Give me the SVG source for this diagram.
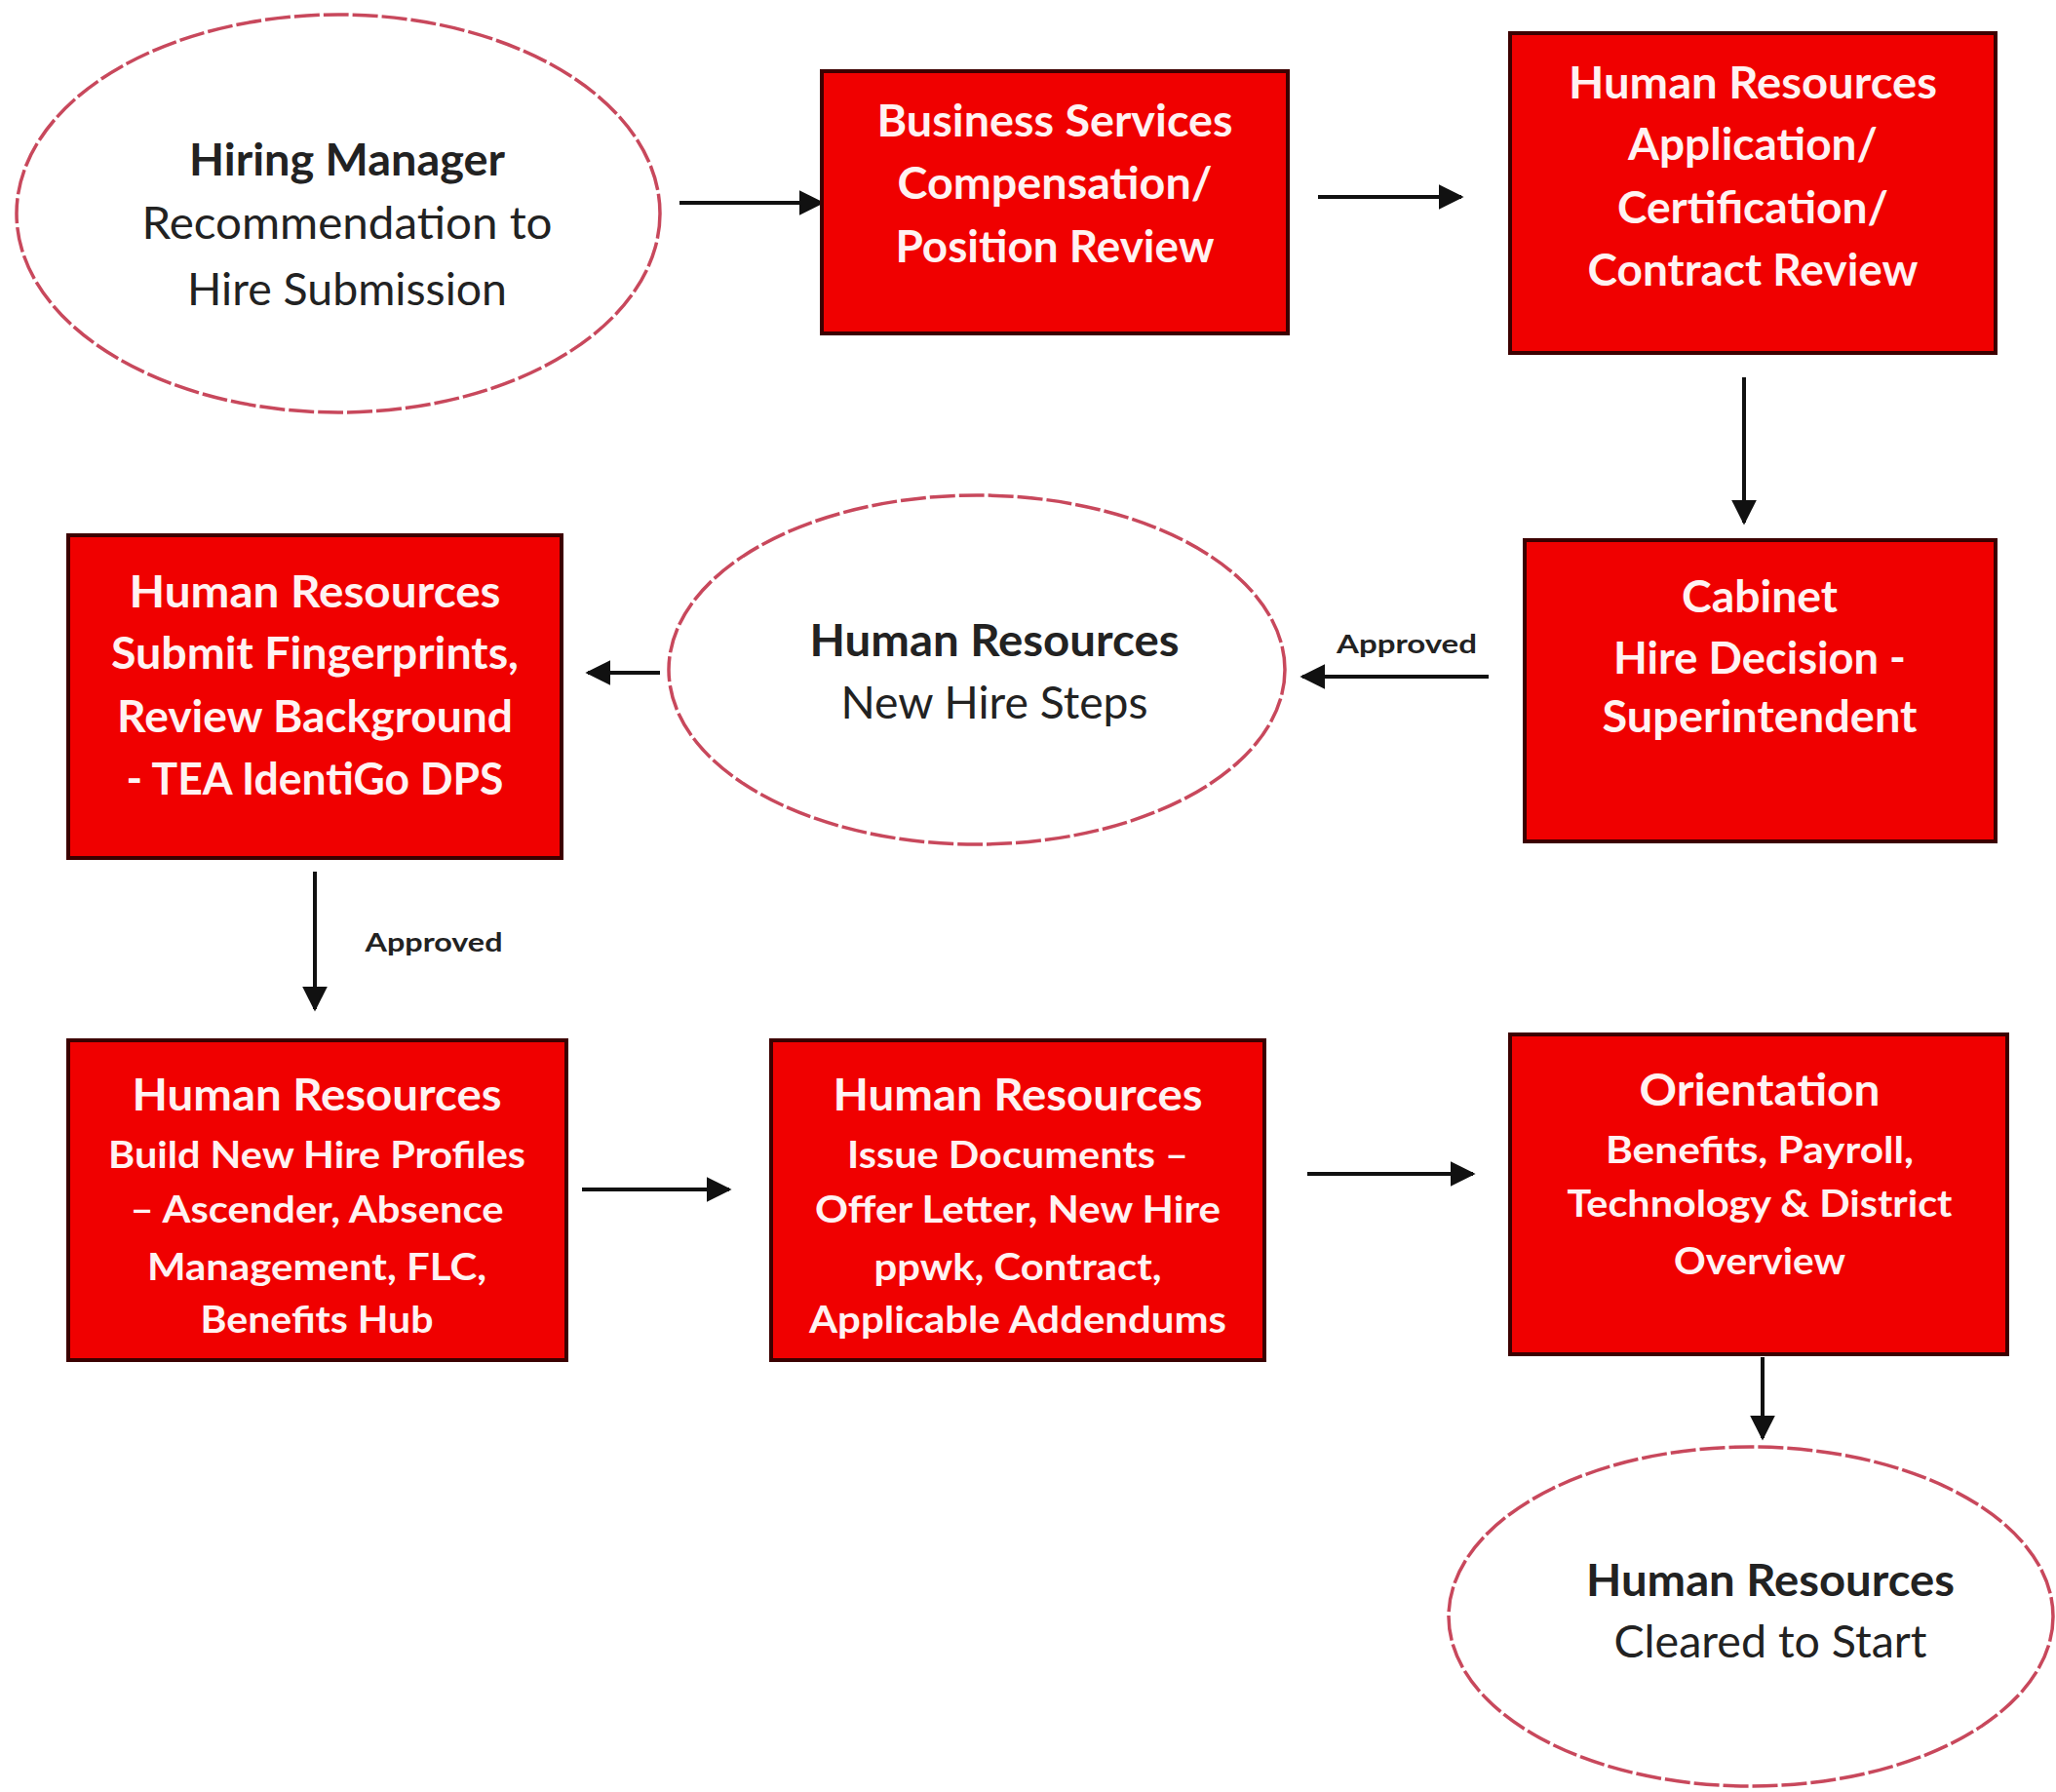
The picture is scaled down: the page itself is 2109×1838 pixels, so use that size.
<svg xmlns="http://www.w3.org/2000/svg" width="2109" height="1838" viewBox="0 0 2109 1838">
<style>
.box{fill:#f00000;stroke:#3c0000;stroke-width:4}
.oval{fill:#ffffff;stroke:#c8485c;stroke-width:3.5;stroke-dasharray:26 4}
.wt{fill:#fff2f2;font-family:Lato,"Liberation Sans",sans-serif;font-weight:bold;text-anchor:middle}
.bt{fill:#222222;font-family:Lato,"Liberation Sans",sans-serif;text-anchor:middle}
.t1{font-size:46px}
.t2{font-size:38px}
.lbl{fill:#222222;font-family:Lato,"Liberation Sans",sans-serif;font-weight:bold;font-size:27px;text-anchor:middle}
.con{stroke:#111111;stroke-width:4;fill:none;marker-end:url(#ah)}
</style>
<defs>
<marker id="ah" viewBox="0 0 10 10" refX="9" refY="5" markerWidth="6.5" markerHeight="6.5" orient="auto" markerUnits="strokeWidth">
<path d="M0,0 L10,5 L0,10 Z" fill="#111111"/>
</marker>
</defs>
<rect width="2109" height="1838" fill="#ffffff"/>
<g id="connectors">
<line class="con" x1="697" y1="208" x2="843" y2="208"/>
<line class="con" x1="1352" y1="202" x2="1499" y2="202"/>
<line class="con" x1="1789" y1="387" x2="1789" y2="536"/>
<line class="con" x1="1527" y1="694" x2="1336" y2="694"/>
<line class="con" x1="677" y1="690" x2="603" y2="690"/>
<line class="con" x1="323" y1="894" x2="323" y2="1035"/>
<line class="con" x1="597" y1="1220" x2="748" y2="1220"/>
<line class="con" x1="1341" y1="1204" x2="1511" y2="1204"/>
<line class="con" x1="1808" y1="1392" x2="1808" y2="1475"/>
<text class="lbl" x="1443" y="670" textLength="144" lengthAdjust="spacingAndGlyphs">Approved</text>
<text class="lbl" x="445" y="976" textLength="141" lengthAdjust="spacingAndGlyphs">Approved</text>
</g>
<g id="n1">
<ellipse class="oval" cx="347" cy="219" rx="330" ry="204"/>
<text class="bt t1" x="356" y="180" font-weight="bold" textLength="324" lengthAdjust="spacingAndGlyphs">Hiring Manager</text>
<text class="bt t1" x="356" y="245" textLength="421" lengthAdjust="spacingAndGlyphs">Recommendation to</text>
<text class="bt t1" x="356" y="313" textLength="328" lengthAdjust="spacingAndGlyphs">Hire Submission</text>
</g>
<g id="n2">
<rect class="box" x="843" y="73" width="478" height="269"/>
<text class="wt t1" x="1082" y="140" textLength="365" lengthAdjust="spacingAndGlyphs">Business Services</text>
<text class="wt t1" x="1082" y="204" textLength="323" lengthAdjust="spacingAndGlyphs">Compensation/</text>
<text class="wt t1" x="1082" y="269" textLength="327" lengthAdjust="spacingAndGlyphs">Position Review</text>
</g>
<g id="n3">
<rect class="box" x="1549" y="34" width="498" height="328"/>
<text class="wt t1" x="1798" y="101" textLength="378" lengthAdjust="spacingAndGlyphs">Human Resources</text>
<text class="wt t1" x="1798" y="164" textLength="256" lengthAdjust="spacingAndGlyphs">Application/</text>
<text class="wt t1" x="1798" y="229" textLength="278" lengthAdjust="spacingAndGlyphs">Certification/</text>
<text class="wt t1" x="1798" y="293" textLength="339" lengthAdjust="spacingAndGlyphs">Contract Review</text>
</g>
<g id="n4">
<rect class="box" x="1564" y="554" width="483" height="309"/>
<text class="wt t1" x="1805" y="628" textLength="160" lengthAdjust="spacingAndGlyphs">Cabinet</text>
<text class="wt t1" x="1805" y="691" textLength="300" lengthAdjust="spacingAndGlyphs">Hire Decision -</text>
<text class="wt t1" x="1805" y="751" textLength="323" lengthAdjust="spacingAndGlyphs">Superintendent</text>
</g>
<g id="n5">
<ellipse class="oval" cx="1002" cy="687" rx="316" ry="179"/>
<text class="bt t1" x="1020" y="673" font-weight="bold" textLength="379" lengthAdjust="spacingAndGlyphs">Human Resources</text>
<text class="bt t1" x="1020" y="737" textLength="315" lengthAdjust="spacingAndGlyphs">New Hire Steps</text>
</g>
<g id="n6">
<rect class="box" x="70" y="549" width="506" height="331"/>
<text class="wt t1" x="323" y="623" textLength="381" lengthAdjust="spacingAndGlyphs">Human Resources</text>
<text class="wt t1" x="323" y="686" textLength="418" lengthAdjust="spacingAndGlyphs">Submit Fingerprints,</text>
<text class="wt t1" x="323" y="751" textLength="406" lengthAdjust="spacingAndGlyphs">Review Background</text>
<text class="wt t1" x="323" y="815" textLength="387" lengthAdjust="spacingAndGlyphs">- TEA IdentiGo DPS</text>
</g>
<g id="n7">
<rect class="box" x="70" y="1067" width="511" height="328"/>
<text class="wt t1" x="325" y="1139" textLength="379" lengthAdjust="spacingAndGlyphs">Human Resources</text>
<text class="wt t2" x="325" y="1198" textLength="428" lengthAdjust="spacingAndGlyphs">Build New Hire Profiles</text>
<text class="wt t2" x="325" y="1254" textLength="383" lengthAdjust="spacingAndGlyphs">– Ascender, Absence</text>
<text class="wt t2" x="325" y="1313" textLength="348" lengthAdjust="spacingAndGlyphs">Management, FLC,</text>
<text class="wt t2" x="325" y="1367" textLength="239" lengthAdjust="spacingAndGlyphs">Benefits Hub</text>
</g>
<g id="n8">
<rect class="box" x="791" y="1067" width="506" height="328"/>
<text class="wt t1" x="1044" y="1139" textLength="379" lengthAdjust="spacingAndGlyphs">Human Resources</text>
<text class="wt t2" x="1044" y="1198" textLength="350" lengthAdjust="spacingAndGlyphs">Issue Documents –</text>
<text class="wt t2" x="1044" y="1254" textLength="416" lengthAdjust="spacingAndGlyphs">Offer Letter, New Hire</text>
<text class="wt t2" x="1044" y="1313" textLength="295" lengthAdjust="spacingAndGlyphs">ppwk, Contract,</text>
<text class="wt t2" x="1044" y="1367" textLength="428" lengthAdjust="spacingAndGlyphs">Applicable Addendums</text>
</g>
<g id="n9">
<rect class="box" x="1549" y="1061" width="510" height="328"/>
<text class="wt t1" x="1805" y="1134" textLength="247" lengthAdjust="spacingAndGlyphs">Orientation</text>
<text class="wt t2" x="1805" y="1193" textLength="316" lengthAdjust="spacingAndGlyphs">Benefits, Payroll,</text>
<text class="wt t2" x="1805" y="1248" textLength="395" lengthAdjust="spacingAndGlyphs">Technology &amp; District</text>
<text class="wt t2" x="1805" y="1307" textLength="176" lengthAdjust="spacingAndGlyphs">Overview</text>
</g>
<g id="n10">
<ellipse class="oval" cx="1796" cy="1658" rx="310" ry="174"/>
<text class="bt t1" x="1816" y="1637" font-weight="bold" textLength="378" lengthAdjust="spacingAndGlyphs">Human Resources</text>
<text class="bt t1" x="1816" y="1700" textLength="321" lengthAdjust="spacingAndGlyphs">Cleared to Start</text>
</g>
</svg>
